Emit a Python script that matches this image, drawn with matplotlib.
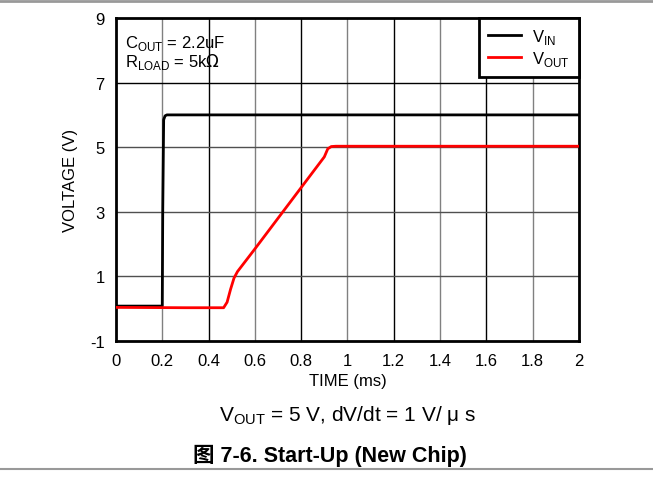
import matplotlib.pyplot as plt
from matplotlib.lines import Line2D

vin_t = [0.0, 0.2, 0.202, 0.206, 0.212, 0.22, 0.5, 1.0, 1.5, 2.0]
vin_v = [0.08, 0.08, 3.0, 5.85, 5.97, 6.0, 6.0, 6.0, 6.0, 6.0]
vout_t = [0.0, 0.3, 0.465, 0.48, 0.495, 0.51, 0.525, 0.6, 0.7, 0.8, 0.9, 0.915, 0.93, 0.95, 1.2, 1.6, 2.0]
vout_v = [0.04, 0.03, 0.03, 0.2, 0.6, 0.95, 1.15, 1.85, 2.8, 3.75, 4.7, 4.95, 5.02, 5.03, 5.03, 5.03, 5.03]

xticks = [0, 0.2, 0.4, 0.6, 0.8, 1, 1.2, 1.4, 1.6, 1.8, 2]
xlabels = ['0', '0.2', '0.4', '0.6', '0.8', '1', '1.2', '1.4', '1.6', '1.8', '2']
yticks = [-1, 1, 3, 5, 7, 9]

plt.rcParams['font.family'] = ['Liberation Sans', 'Noto Sans CJK SC', 'DejaVu Sans']
plt.rcParams['axes.unicode_minus'] = False

fig = plt.figure(figsize=(6.53, 4.81), dpi=100)
ax = fig.add_axes([0.1776, 0.289, 0.709, 0.6715])

# grid: alternating gray / black verticals
for i, x in enumerate(xticks[1:-1]):
    c = '#808080' if i % 2 == 0 else 'black'
    ax.axvline(x, color=c, lw=1.0, zorder=1)
for y in yticks[1:-1]:
    c = 'black' if y == 7 else '#505050'
    ax.axhline(y, color=c, lw=1.0, zorder=1)

ax.plot(vin_t, vin_v, color='black', lw=2, zorder=3)
ax.plot(vout_t, vout_v, color='#ff0000', lw=2, zorder=4)

ax.set_xlim(0, 2)
ax.set_ylim(-1, 9)
ax.set_xticks(xticks)
ax.set_xticklabels(xlabels)
ax.set_yticks(yticks)
ax.tick_params(axis='x', length=0, labelsize=12, pad=9)
ax.tick_params(axis='y', length=0, labelsize=12, pad=8)
for s in ax.spines.values():
    s.set_linewidth(2)

ax.set_xlabel('TIME (ms)', fontsize=12, labelpad=3)
ax.set_ylabel('VOLTAGE (V)', fontsize=12, labelpad=9)

ax.text(0.02, 0.925, r'C$_{\mathregular{OUT}}$ = 2.2uF', transform=ax.transAxes, fontsize=12, va='center')
ax.text(0.02, 0.868, r'R$_{\mathregular{LOAD}}$ = 5k$\Omega$', transform=ax.transAxes, fontsize=12, va='center')

handles = [Line2D([], [], color='black', lw=2), Line2D([], [], color='#ff0000', lw=2)]
leg = ax.legend(handles, [r'V$_{\mathregular{IN}}$', r'V$_{\mathregular{OUT}}$'], loc='upper right',
                bbox_to_anchor=(1.0, 1.0), fontsize=12, fancybox=False, framealpha=1,
                edgecolor='black', borderaxespad=0, handlelength=2.0, labelspacing=0.15,
                borderpad=0.55, handletextpad=0.65)
leg.get_frame().set_linewidth(2)

fig.text(0.533, 0.137, r'V$_{\mathregular{OUT}}$ = 5 V, dV/dt = 1 V/ $\mathregular{\mu}$ s', fontsize=15, ha='center', va='center')
fig.text(0.505, 0.052, '图 7-6. Start-Up (New Chip)', fontsize=15.5, fontweight='bold', ha='center', va='center')

fig.add_artist(Line2D([0, 1], [0.995, 0.995], color='#999999', lw=2, transform=fig.transFigure))
fig.add_artist(Line2D([0, 1], [0.022, 0.022], color='#999999', lw=1.5, transform=fig.transFigure))

fig.savefig('out.png', dpi=100)
